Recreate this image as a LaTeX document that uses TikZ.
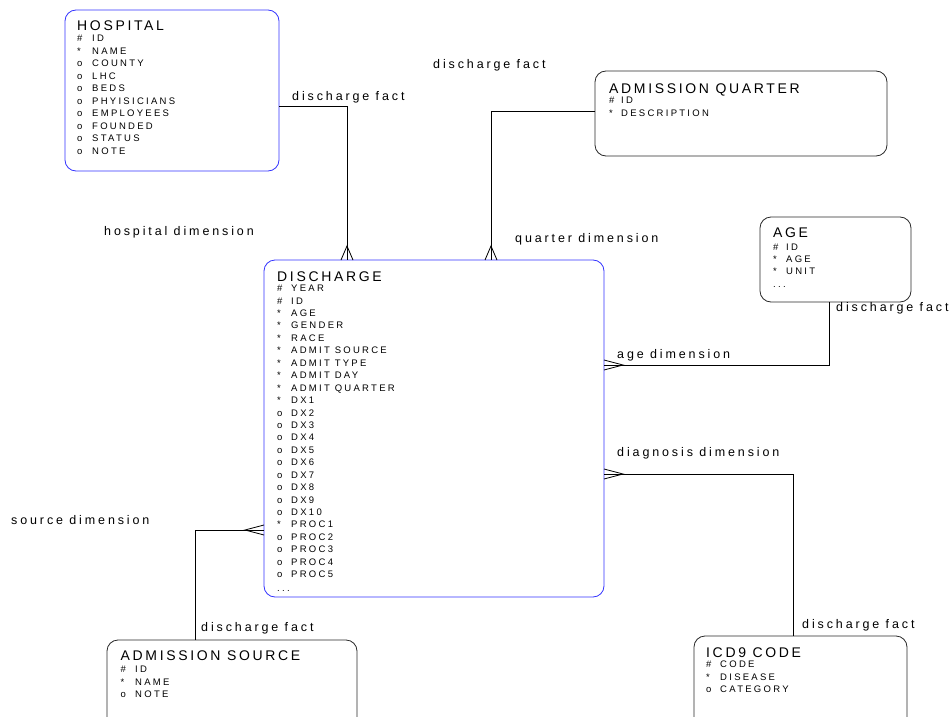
\documentclass[tikz,border=0pt]{standalone}
\usepackage{fontspec}
\setmainfont{Liberation Sans}
\newfontfamily\ttlfont[LetterSpace=19]{Liberation Sans}
\newfontfamily\attfont[LetterSpace=24]{Liberation Sans}
\newfontfamily\lblfont[LetterSpace=23]{Liberation Sans}
\usetikzlibrary{calc}
\definecolor{erblue}{RGB}{51,51,255}
\definecolor{ergray}{RGB}{40,40,40}
\newcommand\attlist[5]{%
  \foreach \s/\t [count=\i from 0] in {#5} {\node[att] at (#1, #2+\i*#3) {\makebox[#4][l]{\s}\t};}}
\begin{document}
\begin{tikzpicture}[x=1pt,y=-1pt,
  entity/.style={draw=ergray,line width=0.8pt,rounded corners=11pt,inner sep=0pt,outer sep=0pt,anchor=north west},
  blueent/.style={entity,draw=erblue},
  ttl/.style={font=\ttlfont\fontsize{14}{16}\selectfont,anchor=base west,inner sep=0pt},
  att/.style={font=\attfont\fontsize{9.5}{11}\selectfont,anchor=base west,inner sep=0pt},
  lbl/.style={font=\lblfont\fontsize{12.5}{14}\selectfont,anchor=base west,inner sep=0pt},
  conn/.style={line width=0.8pt,black}]
\useasboundingbox (0,0) rectangle (951,717);
\clip (0,0) rectangle (951,717);

% entities
\node[blueent,minimum width=214pt,minimum height=161pt] (hosp) at (65,10) {};
\node[entity,minimum width=292pt,minimum height=85pt] (aq) at (595,71) {};
\node[entity,minimum width=151pt,minimum height=85pt] (age) at (760,217) {};
\node[blueent,minimum width=340pt,minimum height=337pt] (dis) at (264,260) {};
\node[entity,minimum width=250pt,minimum height=95pt] (src) at (107,640) {};
\node[entity,minimum width=213pt,minimum height=100pt] (icd) at (694,636) {};

% HOSPITAL
\node[ttl] (hospt) at (77,31) {HOSPITAL};
\attlist{77}{41.7}{12.5}{15pt}{{\#}/ID,{*}/NAME,o/COUNTY,o/LHC,o/BEDS,o/PHYISICIANS,o/EMPLOYEES,o/FOUNDED,o/STATUS,o/NOTE}

% ADMISSION QUARTER
\node[ttl] (aqt) at (609,93.3) {ADMISSION QUARTER};
\attlist{609}{103.2}{13}{12pt}{{\#}/ID,{*}/DESCRIPTION}

% AGE
\node[ttl] (aget) at (773,237.5) {AGE};
\attlist{773}{250}{12.3}{13pt}{{\#}/ID,{*}/AGE,{*}/UNIT}
\node[att] (agedots) at (773,287) {...};

% DISCHARGE
\node[ttl] (dist) at (277,281) {DISCHARGE};
\attlist{277}{291.7}{12.43}{14pt}{{\#}/YEAR,{\#}/ID,{*}/AGE,{*}/GENDER,{*}/RACE,{*}/ADMIT SOURCE,{*}/ADMIT TYPE,{*}/ADMIT DAY,{*}/ADMIT QUARTER,{*}/DX1,o/DX2,o/DX3,o/DX4,o/DX5,o/DX6,o/DX7,o/DX8,o/DX9,o/DX10,{*}/PROC1,o/PROC2,o/PROC3,o/PROC4,o/PROC5}
\node[att] (disdots) at (277,591) {...};

% ADMISSION SOURCE
\node[ttl] (srct) at (120.5,660.7) {ADMISSION SOURCE};
\attlist{120.5}{672.7}{12.5}{14.5pt}{{\#}/ID,{*}/NAME,o/NOTE}

% ICD9 CODE
\node[ttl] (icdt) at (706,657) {ICD9 CODE};
\attlist{706}{667.7}{12.5}{14pt}{{\#}/CODE,{*}/DISEASE,o/CATEGORY}

% connectors
\coordinate (hk) at (347,106);
\coordinate (qk) at (491,111);
\coordinate (ak) at (829,365);
\coordinate (ik) at (793,474);
\coordinate (sk) at (195,530);

\draw[conn] (hosp.east |- hk) -- (hk) -- (dis.north -| hk);
\draw[conn] ($(dis.north -| hk)+(-6,0)$) -- ($(dis.north -| hk)+(0,-14)$) -- ($(dis.north -| hk)+(6,0)$);

\draw[conn] (aq.west |- qk) -- (qk) -- (dis.north -| qk);
\draw[conn] ($(dis.north -| qk)+(-6,0)$) -- ($(dis.north -| qk)+(0,-14)$) -- ($(dis.north -| qk)+(6,0)$);

\draw[conn] (age.south -| ak) -- (ak) -- (dis.east |- ak);
\draw[conn] ($(dis.east |- ak)+(0,-5)$) -- ($(dis.east |- ak)+(19,0)$) -- ($(dis.east |- ak)+(0,5)$);

\draw[conn] (icd.north -| ik) -- (ik) -- (dis.east |- ik);
\draw[conn] ($(dis.east |- ik)+(0,-5)$) -- ($(dis.east |- ik)+(19,0)$) -- ($(dis.east |- ik)+(0,5)$);

\draw[conn] (src.north -| sk) -- (sk) -- (dis.west |- sk);
\draw[conn] ($(dis.west |- sk)+(0,-5)$) -- ($(dis.west |- sk)+(-19,0)$) -- ($(dis.west |- sk)+(0,5)$);

% labels
\node[lbl] (l1) at (292,100) {discharge fact};
\node[lbl] (l2) at (104,235) {hospital dimension};
\node[lbl] (l3) at (433,69) {discharge fact};
\node[lbl] (l4) at (515,242) {quarter dimension};
\node[lbl] (l5) at (836,311.7) {discharge fact};
\node[lbl] (l6) at (617,358.3) {age dimension};
\node[lbl] (l7) at (617,456.3) {diagnosis dimension};
\node[lbl] (l8) at (802,628) {discharge fact};
\node[lbl] (l9) at (11,524) {source dimension};
\node[lbl] (l10) at (201,631) {discharge fact};
\end{tikzpicture}
\end{document}
